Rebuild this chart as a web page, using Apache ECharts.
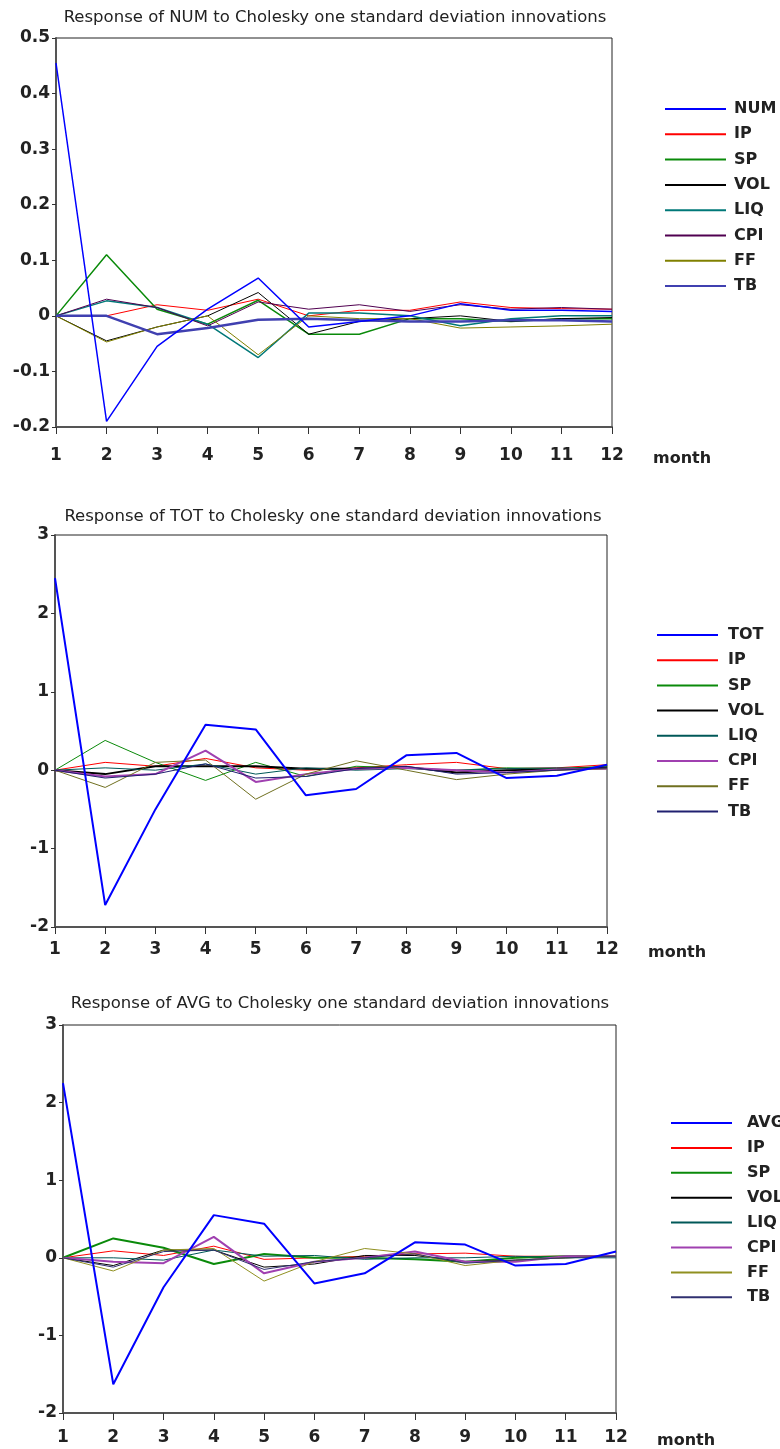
<!DOCTYPE html>
<html>
<head>
<meta charset="utf-8">
<script src="https://cdn.jsdelivr.net/npm/echarts@6/dist/echarts.min.js"></script>
<style>
html,body{margin:0;padding:0;background:#fff;}
#chart{width:780px;height:1449px;}
</style>
</head>
<body>
<div id="chart"></div>
<script>
// ---------- data ----------
const months = ['1','2','3','4','5','6','7','8','9','10','11','12'];
const seriesNames = ['IP','SP','VOL','LIQ','CPI','FF','TB'];

const titles = [
  'Response of NUM to Cholesky one standard deviation innovations',
  'Response of TOT to Cholesky one standard deviation innovations',
  'Response of AVG to Cholesky one standard deviation innovations'
];
const ownNames = ['NUM','TOT','AVG'];

// Panel 1: response of NUM
const num_NUM = [0.455,-0.19,-0.055,0.012,0.068,-0.02,-0.01,0.0,0.022,0.01,0.01,0.008];
const num_IP  = [0,0.0,0.02,0.01,0.03,0.0,0.01,0.01,0.025,0.015,0.013,0.012];
const num_SP  = [0,0.11,0.012,-0.015,0.028,-0.033,-0.033,-0.005,-0.005,-0.01,-0.005,-0.005];
const num_VOL = [0,-0.045,-0.02,0.0,0.042,-0.033,-0.01,-0.005,0.0,-0.01,-0.005,-0.003];
const num_LIQ = [0,0.027,0.015,-0.015,-0.075,0.005,0.005,0.0,-0.018,-0.005,0.0,0.0];
const num_CPI = [0,0.03,0.015,-0.018,0.025,0.012,0.02,0.008,0.02,0.012,0.015,0.012];
const num_FF  = [0,-0.047,-0.02,0.0,-0.07,0.0,-0.005,-0.005,-0.022,-0.02,-0.018,-0.015];
const num_TB  = [0,0.0,-0.033,-0.022,-0.007,-0.005,-0.008,-0.01,-0.01,-0.008,-0.008,-0.01];

// Panel 2: response of TOT
const tot_TOT = [2.45,-1.72,-0.5,0.58,0.52,-0.32,-0.24,0.19,0.22,-0.1,-0.07,0.07];
const tot_IP  = [0,0.1,0.05,0.15,0.03,0.0,0.03,0.07,0.1,0.02,0.03,0.07];
const tot_SP  = [0,0.38,0.1,-0.13,0.1,-0.08,0.05,0.03,0.0,0.03,0.02,0.05];
const tot_VOL = [0,-0.05,0.05,0.05,0.05,0.02,0.02,0.04,-0.03,0.0,0.01,0.03];
const tot_LIQ = [0,0.03,0.0,0.08,-0.05,0.03,0.0,0.02,0.0,0.02,0.03,0.02];
const tot_CPI = [0,-0.08,-0.05,0.25,-0.15,-0.05,0.02,0.03,0.0,-0.03,0.01,0.02];
const tot_FF  = [0,-0.22,0.1,0.13,-0.37,-0.05,0.12,0.0,-0.12,-0.05,0.0,0.02];
const tot_TB  = [0,-0.1,-0.05,0.08,-0.1,-0.08,0.02,0.05,-0.05,-0.03,0.0,0.03];

// Panel 3: response of AVG
const avg_AVG = [2.25,-1.63,-0.38,0.55,0.44,-0.33,-0.2,0.2,0.17,-0.1,-0.08,0.08];
const avg_IP  = [0,0.09,0.03,0.15,-0.02,0.0,0.02,0.05,0.06,0.02,0.02,0.03];
const avg_SP  = [0,0.25,0.13,-0.08,0.05,0.0,0.0,-0.02,-0.05,0.0,0.02,0.02];
const avg_VOL = [0,-0.1,0.1,0.1,-0.12,-0.08,0.03,0.03,-0.05,-0.03,0.0,0.02];
const avg_LIQ = [0,0.0,-0.03,0.1,0.02,0.03,-0.02,0.0,0.0,0.02,0.0,0.0];
const avg_CPI = [0,-0.05,-0.07,0.27,-0.2,-0.05,0.0,0.08,-0.05,-0.05,0.02,0.02];
const avg_FF  = [0,-0.17,0.1,0.12,-0.3,-0.05,0.12,0.05,-0.1,-0.03,0.0,0.02];
const avg_TB  = [0,-0.12,0.08,0.1,-0.15,-0.05,0.0,0.05,-0.07,-0.03,0.0,0.02];

const yMin = [-0.2,-2,-2];
const yMax = [0.5,3,3];
const yInterval = [0.1,1,1];

// ---------- styling ----------
const panelData = [
  [num_NUM,num_IP,num_SP,num_VOL,num_LIQ,num_CPI,num_FF,num_TB],
  [tot_TOT,tot_IP,tot_SP,tot_VOL,tot_LIQ,tot_CPI,tot_FF,tot_TB],
  [avg_AVG,avg_IP,avg_SP,avg_VOL,avg_LIQ,avg_CPI,avg_FF,avg_TB]
];
const colors = [
  ['#0000ff','#ff0000','#0a8a0a','#000000','#007878','#500050','#808000','#4040b0'],
  ['#0000ff','#ff0000','#0a8a0a','#000000','#005858','#a040b0','#707020','#202070'],
  ['#0000ff','#ff0000','#0a8a0a','#000000','#005858','#a040b0','#909020','#303070']
];
const widths = [
  [1.5,1,1.5,1,1.5,1,1,2.5],
  [2,1,1,2,1,2,1,1],
  [2,1,2,1,1,2,1,1]
];
const grids = [
  {left:56, top:38, width:556, height:389},
  {left:55, top:535, width:552, height:392},
  {left:63, top:1025, width:553, height:388}
];
const xLabelMargin = [20,14,16];
const titlePos = [{cx:335, top:9},{cx:333, top:508},{cx:340, top:995}];
const legendPos = [
  {left:664, top:101, gap:9.3, tpad:3},
  {left:656, top:627, gap:9.2, tpad:5},
  {left:670, top:1115, gap:8.9, tpad:10}
];

const FONT = 'DejaVu Sans';
const option = {
  backgroundColor:'#fff',
  animation:false,
  title:[], grid:[], xAxis:[], yAxis:[], legend:[], series:[]
};

for (let p=0;p<3;p++){
  const suffix = ' '.repeat(p);
  const names = [ownNames[p]].concat(seriesNames).map(n=>n+suffix);
  option.title.push({
    text:titles[p], left:titlePos[p].cx, top:titlePos[p].top, textAlign:'center', padding:0,
    textStyle:{fontFamily:FONT, fontSize:16.5, fontWeight:'normal', color:'#222'}
  });
  option.grid.push(Object.assign({show:true, borderColor:'#222', borderWidth:1, backgroundColor:'#fff'}, grids[p]));
  option.xAxis.push({
    type:'category', gridIndex:p, data:months, boundaryGap:false,
    name:'month', nameLocation:'end', nameGap:41,
    nameTextStyle:{fontFamily:FONT, fontSize:16, fontWeight:'bold', color:'#222',
      verticalAlign:'top', padding:[xLabelMargin[p]+4,0,0,0]},
    axisLine:{show:true, onZero:false, lineStyle:{color:'#555', width:2}},
    axisTick:{show:true, alignWithLabel:true, length:7, lineStyle:{color:'#333'}},
    axisLabel:{fontFamily:FONT, fontSize:17, fontWeight:'bold', color:'#222', margin:xLabelMargin[p]},
    splitLine:{show:false}
  });
  option.yAxis.push({
    type:'value', gridIndex:p, min:yMin[p], max:yMax[p], interval:yInterval[p],
    axisLine:{show:true, lineStyle:{color:'#555', width:2}},
    axisTick:{show:true, length:4, lineStyle:{color:'#333'}},
    axisLabel:{fontFamily:FONT, fontSize:17, fontWeight:'bold', color:'#222', margin:6,
      formatter:v=>String(Math.round(v*10)/10)},
    splitLine:{show:false}
  });
  option.legend.push({
    orient:'vertical', left:legendPos[p].left, top:legendPos[p].top, padding:0,
    itemWidth:61, itemHeight:14, itemGap:legendPos[p].gap,
    data:names, selectedMode:false,
    itemStyle:{opacity:0},
    formatter:n=>n.trim(),
    textStyle:{fontFamily:FONT, fontSize:16, fontWeight:'bold', color:'#222', padding:[0,0,0,legendPos[p].tpad]}
  });
  panelData[p].forEach((arr,i)=>{
    option.series.push({
      type:'line', name:names[i], xAxisIndex:p, yAxisIndex:p,
      data:arr, symbol:'none', smooth:false,
      lineStyle:{color:colors[p][i], width:widths[p][i]},
      itemStyle:{color:colors[p][i]},
      z: i===0 ? 3 : 2
    });
  });
}

const chart = echarts.init(document.getElementById('chart'), null, {renderer:'canvas'});
chart.setOption(option);
</script>
</body>
</html>
